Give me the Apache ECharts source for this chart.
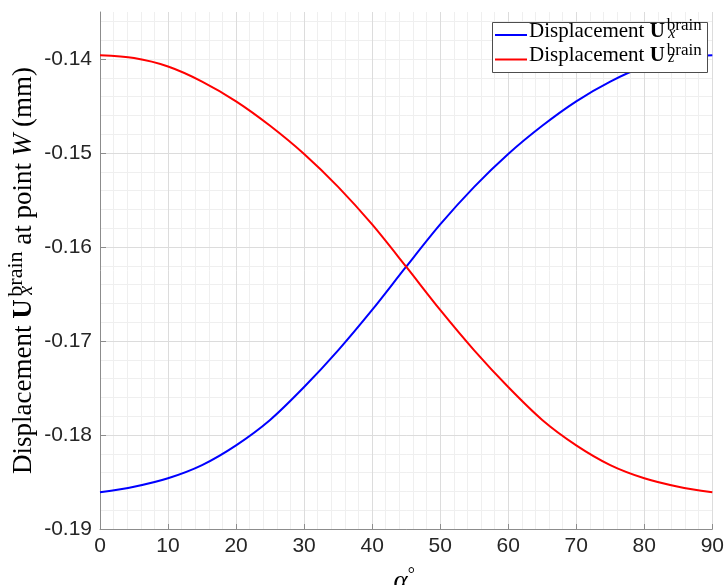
<!DOCTYPE html>
<html>
<head>
<meta charset="utf-8">
<script src="https://cdn.jsdelivr.net/npm/echarts@6/dist/echarts.min.js"></script>
<style>
  html, body { margin: 0; padding: 0; background: #ffffff; }
  #chart { width: 727px; height: 585px; }
</style>
</head>
<body>
<div id="chart"></div>
<script>
// Loading angle alpha (degrees)
const alphaDeg = [0, 5, 10, 15, 20, 25, 30, 35, 40, 45, 50, 55, 60, 65, 70, 75, 80, 85, 90];

// Brain displacement at point W (mm)
const uxBrain = [-0.1861, -0.1855, -0.1846, -0.1832, -0.1811, -0.1784, -0.1749, -0.1710, -0.1667, -0.1621,
                 -0.1576, -0.1536, -0.1501, -0.1471, -0.1445, -0.1424, -0.1408, -0.1399, -0.1396];
const uzBrain = [-0.1396, -0.1399, -0.1408, -0.1424, -0.1445, -0.1471, -0.1501, -0.1536, -0.1576, -0.1621,
                 -0.1667, -0.1710, -0.1749, -0.1784, -0.1811, -0.1832, -0.1846, -0.1855, -0.1861];

// Tick labels
const xTickLabels = ['0', '10', '20', '30', '40', '50', '60', '70', '80', '90'];
const yTickLabels = ['-0.19', '-0.18', '-0.17', '-0.16', '-0.15', '-0.14'];

const seriesNames = ['Displacement Ux', 'Displacement Uz'];
const seriesColors = ['#0000ff', '#ff0000'];

const AXIS_GRAY = '#8c8c8c';
const TEXT_DARK = '#262626';
const SERIF = '"Liberation Serif", "Times New Roman", serif';
const SANS = '"Liberation Sans", Arial, Helvetica, sans-serif';

const plot = { left: 100, right: 14, top: 12, bottom: 56 };

// --- small text-layout helper for the LaTeX-like labels ---
const measureCtx = document.createElement('canvas').getContext('2d');
function textWidth(text, font) {
  measureCtx.font = font;
  return measureCtx.measureText(text).width;
}
function fontStr(size, weight, style) {
  return (style || 'normal') + ' ' + (weight || 'normal') + ' ' + size + 'px ' + SERIF;
}
// run: {text, size, weight, style, dy, dx, gap}  or  {stack:[supRun, subRun], gap}
// returns text elements laid out along a baseline at (x0, y0)
function layoutRuns(runs, x0, y0) {
  const els = [];
  let x = x0;
  function place(r, xAt) {
    const font = fontStr(r.size, r.weight, r.style);
    const base = y0 + (r.dy || 0);
    els.push({
      type: 'text',
      x: xAt + (r.dx || 0),
      y: base - 0.34 * r.size,
      style: {
        text: r.text,
        font: font,
        fill: '#000000',
        align: 'left',
        verticalAlign: 'middle',
        textAlign: 'left',
        textVerticalAlign: 'middle'
      }
    });
    return textWidth(r.text, font) + (r.dx || 0);
  }
  runs.forEach(r => {
    if (r.stack) {
      let wMax = 0;
      r.stack.forEach(s => { wMax = Math.max(wMax, place(s, x)); });
      x += wMax + (r.gap || 0);
    } else {
      x += place(r, x) + (r.gap || 0);
    }
  });
  return { els: els, width: x - x0 };
}

function uRuns(sub, size) {
  const k = size / 21;
  return [
    { text: 'Displacement ', size: size },
    { text: 'U', size: size, weight: 'bold', gap: 2 * k },
    { stack: [
      { text: 'brain', size: Math.round(size * 0.8), dy: -7 * k },
      { text: sub, size: Math.round(size * 0.74), style: 'italic', dy: 0.5 * k, dx: 1.5 * k }
    ] }
  ];
}

// --- legend (drawn as graphics so the stacked indices render) ---
const legendBox = { x: 492.5, y: 22.5, w: 215, h: 50 };
const legendRows = [38.5, 63];
const legendChildren = [{
  type: 'rect',
  shape: { x: legendBox.x, y: legendBox.y, width: legendBox.w, height: legendBox.h },
  style: { fill: '#ffffff', stroke: '#4d4d4d', lineWidth: 1 },
  z: 100
}];
['x', 'z'].forEach((sub, i) => {
  const base = legendRows[i];
  legendChildren.push({
    type: 'line',
    shape: { x1: 495, y1: base - 3.5, x2: 527, y2: base - 3.5 },
    style: { stroke: seriesColors[i], lineWidth: 2 },
    z: 101
  });
  layoutRuns(uRuns(sub, 21), 529, base).els.forEach(e => { e.z = 101; legendChildren.push(e); });
});

// --- y-axis title, rotated to read bottom to top ---
const Y_TITLE_SIZE = 27;
const yTitleRuns = uRuns('x', Y_TITLE_SIZE).concat([
  { text: ' at point ', size: Y_TITLE_SIZE },
  { text: 'W', size: Y_TITLE_SIZE, style: 'italic' },
  { text: ' (mm)', size: Y_TITLE_SIZE }
]);
const yTitle = layoutRuns(yTitleRuns, 0, 0);
const plotMidY = plot.top + (585 - plot.top - plot.bottom) / 2;
const yTitleGroup = {
  type: 'group',
  x: 33,
  y: plotMidY + yTitle.width / 2,
  rotation: Math.PI / 2,
  children: yTitle.els
};

// --- x-axis title: alpha with degree sign ---
const xMid = plot.left + (727 - plot.left - plot.right) / 2;
const xTitle = layoutRuns([
  { text: 'α', size: 27, style: 'italic' },
  { text: '°', size: 18, dy: -10 }
], xMid - 13, 591);

const chart = echarts.init(document.getElementById('chart'), null, { renderer: 'canvas' });

chart.setOption({
  backgroundColor: '#ffffff',
  animation: false,
  grid: {
    left: plot.left, right: plot.right, top: plot.top, bottom: plot.bottom,
    containLabel: false
  },
  xAxis: [
    {
      type: 'value', min: 0, max: 90, interval: 10, z: 1,
      axisLine: { show: true, onZero: false, lineStyle: { color: AXIS_GRAY, width: 1 } },
      axisTick: { show: true, inside: true, length: 5, lineStyle: { color: AXIS_GRAY } },
      axisLabel: {
        margin: 7, color: TEXT_DARK, fontFamily: SANS, fontSize: 21,
        formatter: v => xTickLabels[Math.round(v / 10)] || ''
      },
      splitLine: { show: true, lineStyle: { color: '#dcdcdc', width: 1 } }
    },
    {
      // minor grid every 2 degrees
      type: 'value', min: 0, max: 90, interval: 2, z: 0, position: 'top',
      axisLine: { show: false }, axisTick: { show: false }, axisLabel: { show: false },
      splitLine: { show: true, lineStyle: { color: '#efefef', width: 1 } }
    }
  ],
  yAxis: [
    {
      type: 'value', min: -0.19, max: -0.135, interval: 0.01, z: 1,
      axisLine: { show: true, onZero: false, lineStyle: { color: AXIS_GRAY, width: 1 } },
      axisTick: {
        show: true, inside: true, length: 6, lineStyle: { color: AXIS_GRAY },
        customValues: yTickLabels.map(Number)
      },
      axisLabel: {
        margin: 8, color: TEXT_DARK, fontFamily: SANS, fontSize: 21,
        customValues: yTickLabels.map(Number),
        formatter: v => v.toFixed(2)
      },
      splitLine: { show: true, showMaxLine: false, lineStyle: { color: '#dcdcdc', width: 1 } }
    },
    {
      // minor grid every 0.002 mm
      type: 'value', min: -0.19, max: -0.135, interval: 0.002, z: 0, position: 'right',
      axisLine: { show: false }, axisTick: { show: false }, axisLabel: { show: false },
      splitLine: { show: true, showMaxLine: false, lineStyle: { color: '#efefef', width: 1 } }
    }
  ],
  series: [uxBrain, uzBrain].map((vals, i) => ({
    name: seriesNames[i],
    type: 'line',
    xAxisIndex: 0,
    yAxisIndex: 0,
    data: alphaDeg.map((a, k) => [a, vals[k]]),
    showSymbol: false,
    smooth: 0.3,
    z: 5,
    lineStyle: { color: seriesColors[i], width: 2 },
    itemStyle: { color: seriesColors[i] }
  })),
  graphic: [
    { type: 'group', children: legendChildren, z: 100 },
    yTitleGroup,
    { type: 'group', children: xTitle.els }
  ]
});
</script>
</body>
</html>
